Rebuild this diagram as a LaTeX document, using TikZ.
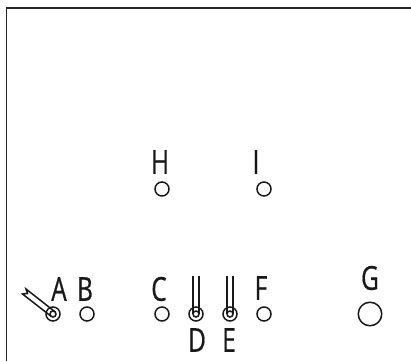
\documentclass[tikz,border=0pt]{standalone}
\usepackage{fontspec}
\setmainfont[FakeStretch=0.74,FakeBold=0.6]{Open Sans}
\tikzset{
  x=1pt,y=-1pt,
  hole/.style={circle,draw=black!90,line width=1.5pt,inner sep=0pt,outer sep=0pt,minimum size=14pt,fill=none},
  bighole/.style={hole,minimum size=23.5pt},
  inner/.style={hole,minimum size=6pt},
  lab/.style={inner sep=0pt,font=\fontsize{33}{33}\selectfont,text=black!90,anchor=center},
  frameline/.style={line width=1.8pt,draw=black!85},
  needle/.style={line width=1.5pt,draw=black!90,line join=miter}
}
\begin{document}
\begin{tikzpicture}
\useasboundingbox (0,0) rectangle (411,361);
\coordinate (fa) at (6.5,361);
\coordinate (fb) at (6.5,8);
\coordinate (fc) at (411,8);
\draw[frameline] (fa) -- (fb) -- (fc);
% holes
\node[hole] (a) at (53,314) {};
\node[inner] (ai) at (53,314) {};
\node[hole] (b) at (87,314) {};
\node[hole] (c) at (162,314) {};
\node[hole] (d) at (196,314) {};
\node[inner] (di) at (196,314) {};
\node[hole] (e) at (230,314) {};
\node[inner] (ei) at (230,314) {};
\node[hole] (f) at (264,314) {};
\node[bighole] (g) at (370,314) {};
\node[hole] (h) at (162,189) {};
\node[hole] (i) at (264,189) {};
% needles
\coordinate (d1) at (193,276); \coordinate (d2) at (199,276);
\coordinate (e1) at (227,276); \coordinate (e2) at (233,276);
\draw[needle] (d1) -- (di.west);
\draw[needle] (d2) -- (di.east);
\draw[needle] (e1) -- (ei.west);
\draw[needle] (e2) -- (ei.east);
\coordinate (a1) at (26,289); \coordinate (a2) at (27.5,293.5); \coordinate (a3) at (22.5,294);
\draw[needle] (ai.north east) -- (a1) -- (a2) -- (a3) -- (ai.south west);
% labels
\node[lab] (la) at (59,289) {A};
\node[lab] (lb) at (85,289) {B};
\node[lab] (lc) at (159,289) {C};
\node[lab] (ld) at (197,340) {D};
\node[lab] (le) at (229,340) {E};
\node[lab] (lf) at (261,288) {F};
\node[lab] (lg) at (370,278) {G};
\node[lab] (lh) at (160,162) {H};
\node[lab] (li) at (256,162) {I};
\end{tikzpicture}
\end{document}
